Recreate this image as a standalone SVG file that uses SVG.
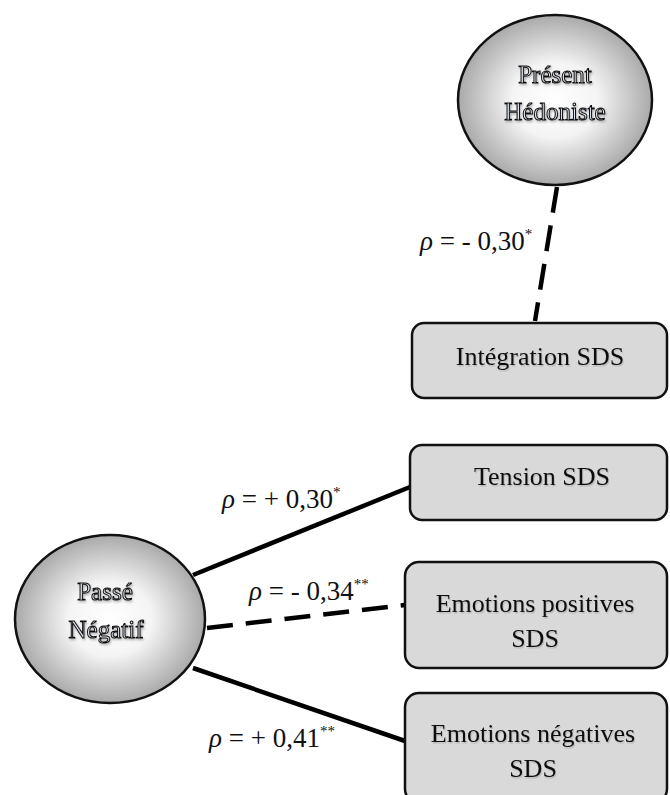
<svg xmlns="http://www.w3.org/2000/svg" width="670" height="795" viewBox="0 0 670 795">
<defs>
<radialGradient id="sph" cx="50%" cy="50%" r="55%">
<stop offset="0%" stop-color="#ffffff"/>
<stop offset="40%" stop-color="#f4f4f4"/>
<stop offset="100%" stop-color="#9c9c9c"/>
</radialGradient>
<filter id="sh" x="-10%" y="-10%" width="130%" height="140%">
<feDropShadow dx="1" dy="1.5" stdDeviation="0.8" flood-color="#000" flood-opacity="0.3"/>
</filter>
<filter id="sh2" x="-10%" y="-10%" width="130%" height="140%">
<feDropShadow dx="1" dy="1.5" stdDeviation="0.7" flood-color="#000" flood-opacity="0.15"/>
</filter>
</defs>
<style>
.ell{fill:url(#sph);stroke:#111;stroke-width:2.5}
.box{fill:#d9d9d9;stroke:#111;stroke-width:2.5}
.et{fill:#dde3ee;stroke:#111;stroke-width:1;text-anchor:middle}
.bt{fill:#111;text-anchor:middle}
.lab{fill:#111}
.rho{font-style:italic}
.solid{stroke:#000;stroke-width:4.5;fill:none}
.dash{stroke:#000;stroke-width:4.5;fill:none;stroke-dasharray:26 13}
</style>
<g id="connectors">
<line class="dash" x1="557" y1="187" x2="535" y2="321"/>
<line class="solid" x1="193" y1="575" x2="410" y2="487"/>
<line class="dash" x1="207" y1="628" x2="405" y2="605"/>
<line class="solid" x1="193" y1="668" x2="405" y2="741"/>
</g>
<g id="labels">
<text class="lab" font-family="Liberation Serif, serif" font-size="27" x="420" y="250"><tspan class="rho">ρ</tspan> = - 0,30<tspan font-size="15" dy="-11">*</tspan></text>
<text class="lab" font-family="Liberation Serif, serif" font-size="27" x="222" y="508"><tspan class="rho">ρ</tspan> = + 0,30<tspan font-size="15" dy="-11">*</tspan></text>
<text class="lab" font-family="Liberation Serif, serif" font-size="27" x="249" y="600"><tspan class="rho">ρ</tspan> = - 0,34<tspan font-size="15" dy="-11">**</tspan></text>
<text class="lab" font-family="Liberation Serif, serif" font-size="27" x="209" y="747"><tspan class="rho">ρ</tspan> = + 0,41<tspan font-size="15" dy="-11">**</tspan></text>
</g>
<g id="present-hedoniste">
<ellipse class="ell" cx="555" cy="100" rx="97" ry="85"/>
<text class="et" font-family="Liberation Serif, serif" font-size="25" x="555" y="83" filter="url(#sh)">Présent</text>
<text class="et" font-family="Liberation Serif, serif" font-size="25" x="555" y="120" filter="url(#sh)">Hédoniste</text>
</g>
<g id="passe-negatif">
<ellipse class="ell" cx="110" cy="619" rx="95" ry="84"/>
<text class="et" font-family="Liberation Serif, serif" font-size="25" x="105" y="600" filter="url(#sh)">Passé</text>
<text class="et" font-family="Liberation Serif, serif" font-size="25" x="106" y="638" filter="url(#sh)">Négatif</text>
</g>
<g id="integration">
<rect class="box" x="412" y="323" width="255" height="75" rx="12"/>
<text class="bt" font-family="Liberation Serif, serif" font-size="26" x="540" y="365" filter="url(#sh2)">Intégration SDS</text>
</g>
<g id="tension">
<rect class="box" x="410" y="445" width="257" height="75" rx="12"/>
<text class="bt" font-family="Liberation Serif, serif" font-size="26" x="542" y="485" filter="url(#sh2)">Tension SDS</text>
</g>
<g id="emotions-positives">
<rect class="box" x="405" y="562" width="262" height="106" rx="14"/>
<text class="bt" font-family="Liberation Serif, serif" font-size="26" x="535" y="612" filter="url(#sh2)">Emotions positives</text>
<text class="bt" font-family="Liberation Serif, serif" font-size="26" x="535" y="647" filter="url(#sh2)">SDS</text>
</g>
<g id="emotions-negatives">
<rect class="box" x="405" y="693" width="262" height="110" rx="14"/>
<text class="bt" font-family="Liberation Serif, serif" font-size="26" x="533" y="742" filter="url(#sh2)">Emotions négatives</text>
<text class="bt" font-family="Liberation Serif, serif" font-size="26" x="533" y="777" filter="url(#sh2)">SDS</text>
</g>
</svg>
